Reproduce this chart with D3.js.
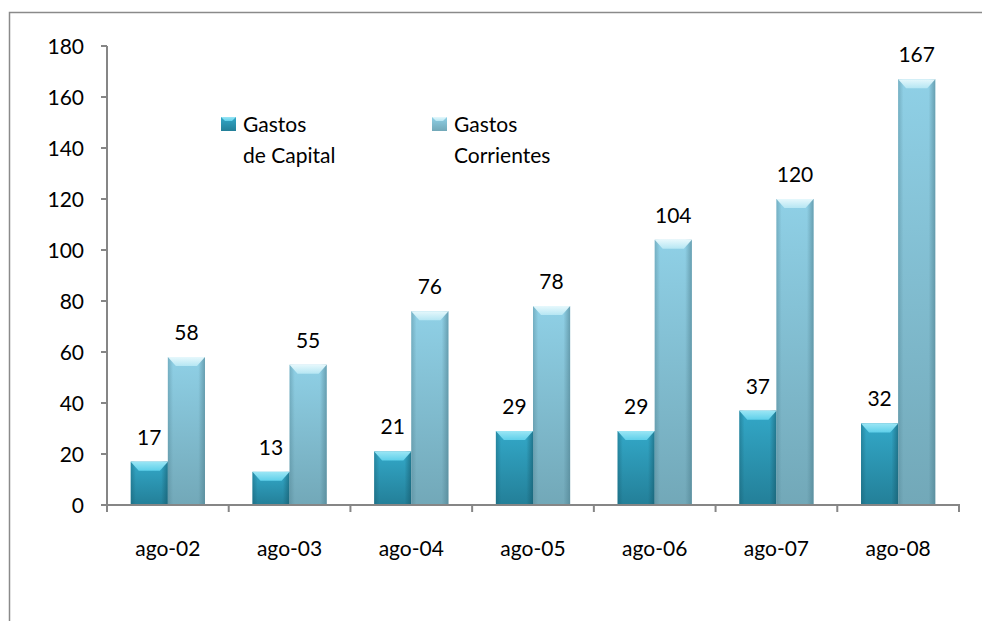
<!DOCTYPE html>
<html><head><meta charset="utf-8">
<script src="https://cdn.jsdelivr.net/npm/d3@7"></script>
<style>
body{margin:0;background:#fff;}
svg{display:block;font-family:Lato,"Open Sans",sans-serif;}
</style></head>
<body>
<svg id="c" width="982" height="621"></svg>
<script>
const categories = ["ago-02","ago-03","ago-04","ago-05","ago-06","ago-07","ago-08"];
const capital = [17,13,21,29,29,37,32];
const corrientes = [58,55,76,78,104,120,167];
const seriesNames = [["Gastos","de Capital"],["Gastos","Corrientes"]];
const yTicks = [0,20,40,60,80,100,120,140,160,180];

const svg = d3.select("#c");
const W = 982, H = 621;
const m = {left:107, right:959, top:46, bottom:505};
const FS = 21;

// outer frame
svg.append("path").attr("d",`M${W},12.5 H9.5 V${H}`).attr("fill","none").attr("stroke","#8a8a8a").attr("stroke-width",1.5);

const x = d3.scaleBand().domain(categories).range([m.left,m.right]).paddingInner(0.39).paddingOuter(0.195);
const y = d3.scaleLinear().domain([0,180]).range([m.bottom,m.top]);

const defs = svg.append("defs");
const styles = [
  {id:"cap", top:"#33a8c8", bot:"#237f98", edge:"#15586a", bevel:"#5fd0ea", bevelTop:"#9be6f5"},
  {id:"cor", top:"#8fd0e6", bot:"#72a8b8", edge:"#4d7f8e", bevel:"#b5e6f3", bevelTop:"#e6f8fc"}
];
styles.forEach(s=>{
  const g = defs.append("linearGradient").attr("id",s.id+"V").attr("x1",0).attr("y1",0).attr("x2",0).attr("y2",1);
  g.append("stop").attr("offset","0%").attr("stop-color",s.top);
  g.append("stop").attr("offset","100%").attr("stop-color",s.bot);
  const h = defs.append("linearGradient").attr("id",s.id+"H").attr("x1",0).attr("y1",0).attr("x2",1).attr("y2",0);
  h.append("stop").attr("offset","0%").attr("stop-color",s.edge).attr("stop-opacity",0.4);
  h.append("stop").attr("offset","14%").attr("stop-color",s.edge).attr("stop-opacity",0);
  h.append("stop").attr("offset","82%").attr("stop-color",s.edge).attr("stop-opacity",0);
  h.append("stop").attr("offset","100%").attr("stop-color",s.edge).attr("stop-opacity",0.6);
  const b = defs.append("linearGradient").attr("id",s.id+"B").attr("x1",0).attr("y1",0).attr("x2",0).attr("y2",1);
  b.append("stop").attr("offset","0%").attr("stop-color",s.bevelTop);
  b.append("stop").attr("offset","100%").attr("stop-color",s.bevel);
});

const bw = x.bandwidth()/2;
const series = [capital, corrientes];

function drawBar(g, x0, v, s){
  const yt = y(v), yb = y(0), h = yb-yt;
  g.append("rect").attr("x",x0).attr("y",yt).attr("width",bw).attr("height",h).attr("fill",`url(#${s.id}V)`);
  g.append("rect").attr("x",x0).attr("y",yt).attr("width",bw).attr("height",h).attr("fill",`url(#${s.id}H)`);
  const bv = Math.min(9,h/2), inset = 8;
  g.append("path").attr("d",`M${x0},${yt} H${x0+bw} L${x0+bw-inset},${yt+bv} H${x0+inset} Z`).attr("fill",`url(#${s.id}B)`);
}

const barsG = svg.append("g");
categories.forEach((c,i)=>{
  series.forEach((vals,k)=>{
    const x0 = x(c)+k*bw;
    drawBar(barsG, x0, vals[i], styles[k]);
    svg.append("text").attr("x",x0+bw/2).attr("y",y(vals[i])-17)
      .attr("text-anchor","middle").attr("font-size",FS).attr("fill","#000").text(vals[i]);
  });
});

// axes
const ax = svg.append("g").attr("stroke","#868686").attr("stroke-width",2).attr("fill","none");
ax.append("line").attr("x1",m.left).attr("x2",m.left).attr("y1",m.top).attr("y2",m.bottom+6);
ax.append("line").attr("x1",m.left-6).attr("x2",m.right+1).attr("y1",m.bottom).attr("y2",m.bottom);
yTicks.forEach(t=>{
  ax.append("line").attr("x1",m.left-6).attr("x2",m.left).attr("y1",y(t)).attr("y2",y(t));
  svg.append("text").attr("x",84).attr("y",y(t)+7.5).attr("text-anchor","end").attr("font-size",FS).attr("fill","#000").text(t);
});
const step = x.step();
for(let i=0;i<=categories.length;i++){
  const xx = m.left + i*step;
  ax.append("line").attr("x1",xx).attr("x2",xx).attr("y1",m.bottom).attr("y2",m.bottom+7);
}
categories.forEach(c=>{
  svg.append("text").attr("x",x(c)+x.bandwidth()/2).attr("y",556).attr("text-anchor","middle").attr("font-size",FS).attr("fill","#000").text(c);
});

// legend
const legX = [221,432];
seriesNames.forEach((nm,k)=>{
  const s = styles[k];
  const lx = legX[k], ly = 117;
  svg.append("rect").attr("x",lx).attr("y",ly).attr("width",15).attr("height",14).attr("fill",`url(#${s.id}V)`);
  svg.append("path").attr("d",`M${lx},${ly} H${lx+15} L${lx+11},${ly+4} H${lx+4} Z`).attr("fill",`url(#${s.id}B)`);
  svg.append("text").attr("x",lx+22).attr("y",131.5).attr("font-size",FS).attr("fill","#000").text(nm[0]);
  svg.append("text").attr("x",lx+22).attr("y",163).attr("font-size",FS).attr("fill","#000").text(nm[1]);
});
</script>
</body></html>
